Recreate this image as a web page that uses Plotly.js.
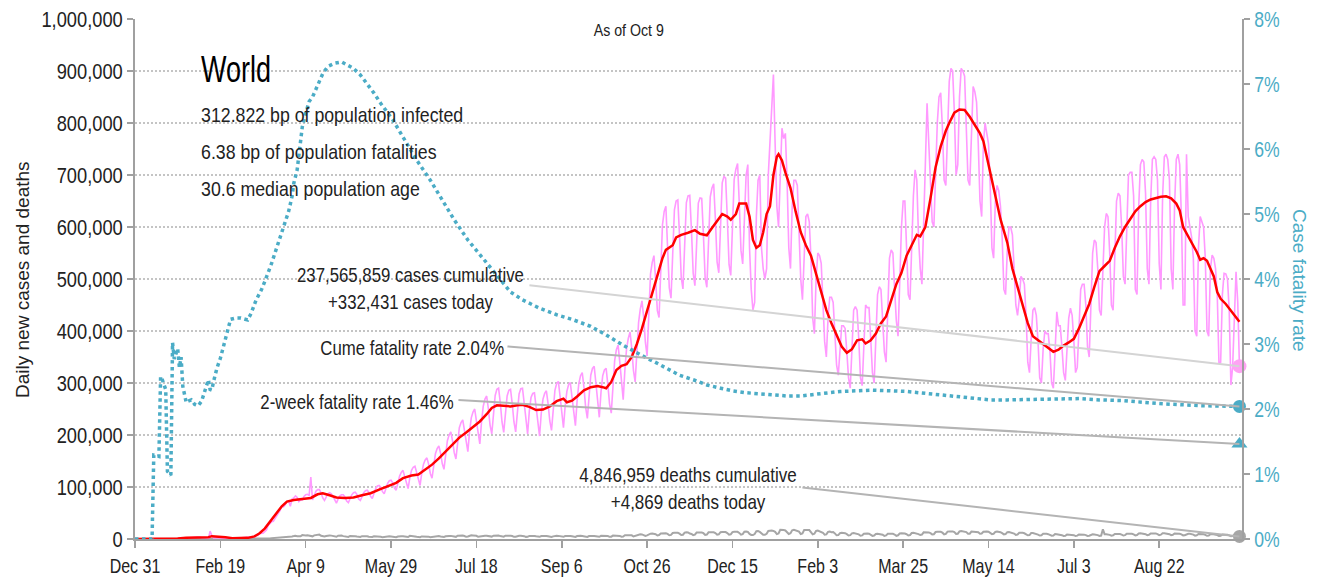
<!DOCTYPE html>
<html>
<head>
<meta charset="utf-8">
<script src="https://cdn.plot.ly/plotly-3.0.1.min.js"></script>
<style>html,body{margin:0;padding:0;background:#fff;}#chart{width:1317px;height:579px;}</style>
</head>
<body>
<div id="chart"></div>
<script>
// ---------- DATA ----------
const startDate = [2019, 11, 31]; // day 0 = Dec 31, 2019

const tickDays = [0, 50, 100, 150, 200, 250, 300, 350, 400, 450, 500, 550, 600];
const tickLabels = ["Dec 31", "Feb 19", "Apr 9", "May 29", "Jul 18", "Sep 6", "Oct 26", "Dec 15", "Feb 3", "Mar 25", "May 14", "Jul 3", "Aug 22"];

// daily new cases, thousands (one value per day from Dec 31, 2019)
const dailyCasesK = [
0,0,0,0,0,0,0,0,0,0,0,0,0,0,0,0,0,0,0,0,0,0,
0.6,0.1,0.3,0.5,0.7,0.8,1.7,0.1,1.7,2.0,1.7,2.1,2.6,2.8,
3.7,3.2,3.5,2.7,3.0,2.6,2.0,0.5,
15.1,
6.5,2.1,2.6,2.1,1.9,1.8,0.5,1.0,1.0,0.7,0.7,1.0,
1.0,1.3,2.0,1.8,1.7,2.0,2.5,2.3,2.8,
3.7,4.0,3.8,4.0,4.5,7.4,7.1,10.9,11.4,11.0,
14,17,26,30,33,34,39,45,49,55,
63,62,66,72,73,63,77,
79,83,80,72,75,
75,82,85,86,84,119,75,
85,92,95,95,89,79,74,
82,87,89,87,82,74,69,
77,83,85,85,81,73,70,
78,85,89,90,86,77,74,
82,89,93,94,90,82,78,
89,97,102,103,99,91,87,
99,107,112,113,108,98,94,
107,121,128,132,120,106,97,
118,132,138,140,128,112,103,
127,144,152,156,144,126,117,
145,164,174,179,165,145,134,
167,189,200,206,189,166,154,
189,214,224,229,209,183,168,
207,233,244,250,227,199,183,
225,255,269,275,251,219,202,
246,276,288,290,262,225,205,
248,275,286,288,260,225,206,
249,279,289,290,261,224,202,
246,272,280,281,253,218,198,
242,269,280,285,260,227,209,
255,286,299,303,275,238,214,
256,284,297,301,273,238,218,
266,299,314,320,292,253,232,
282,315,328,332,300,258,234,
283,314,325,328,297,260,242,
301,343,364,373,340,294,268,
326,367,386,398,367,324,302,
364,416,442,458,426,378,352,
443,510,532,545,499,439,426,
519,604,630,640,560,483,463,
554,633,650,652,583,503,481,
575,647,660,661,592,511,487,
578,646,656,655,584,502,484,
583,658,675,683,615,533,512,
613,685,697,694,617,528,507,
610,691,711,722,645,555,529,
632,700,720,560,480,440,455,
620,690,700,560,520,500,520,
700,770,850,893,760,640,600,
720,790,770,780,690,560,520,
640,690,690,680,600,500,460,
560,620,625,610,540,425,395,
500,550,545,530,460,380,350,
425,465,465,455,400,335,315,
370,410,410,405,360,310,290,
360,440,447,440,385,310,295,
370,450,445,445,385,320,300,
390,470,485,480,420,360,340,
425,540,556,550,480,420,390,
495,600,650,650,560,470,460,
560,660,710,690,580,520,490,
590,720,838,760,700,610,600,
700,800,850,858,790,690,680,
790,880,905,900,820,700,720,
850,905,900,890,800,690,680,
790,870,860,840,760,650,620,
760,800,780,760,680,560,540,
650,680,670,640,580,480,470,
555,600,600,585,520,450,430,
460,505,500,490,430,340,320,
385,440,445,430,380,310,300,
365,400,395,395,360,300,290,
360,437,410,410,370,320,305,
375,425,444,430,380,320,330,
405,480,490,490,450,370,350,
460,550,575,570,520,440,430,
515,600,626,620,550,450,440,
555,650,665,660,600,505,490,
620,700,705,705,660,480,470,
640,720,730,725,665,520,490,
650,730,735,730,690,530,480,
660,735,740,730,690,520,480,
640,730,740,720,620,450,450,
740,620,600,580,540,400,390,
560,620,610,600,540,400,390,
520,546,540,520,470,338,340,
470,511,510,500,440,296,330,
440,514,456,332.431
];

// 7-day average of new cases, thousands: [day, value]
const avgCasesK = [
[0,0],[19,0],[21,0.3],[25,1.2],[30,2.5],[36,3.2],[40,3.0],[43,3.5],[45,5.5],[50,4.5],[53,3.5],[57,1.5],[62,1.5],[66,2.2],
[70,5],[73,11],[76,20],[79,33],[82,48],[86,63],[89,72],[93,75],[98,77],[103,79],[107,86],[110,88],[114,84],[118,80],
[123,79],[128,80],[133,84],[138,88],[143,95],[148,101],[153,108],[157,117],[162,122],[166,124],[170,133],[174,143],
[178,155],[182,168],[186,182],[190,195],[194,205],[198,216],[202,226],[206,240],[209,252],[212,257],[216,256],[220,255],
[224,257],[227,258],[231,254],[235,248],[239,249],[243,255],[247,265],[251,270],[253,263],[256,266],[259,274],[263,286],
[267,292],[271,294],[274,292],[276,290],[279,302],[282,325],[285,333],[288,336],[291,350],[294,375],[297,405],[300,440],
[303,475],[306,510],[309,540],[311,556],[313,560],[315,565],[317,580],[320,585],[324,589],[328,594],[331,587],[335,584],
[338,598],[341,612],[344,625],[347,620],[349,614],[352,625],[354,645],[358,645],[360,620],[362,575],[364,560],[366,565],
[368,590],[370,625],[372,640],[374,700],[376,735],[377,740],[379,728],[381,705],[384,675],[387,630],[390,590],[393,565],
[396,545],[399,510],[402,475],[405,440],[408,415],[411,392],[414,370],[417,358],[420,365],[423,382],[426,384],[428,376],
[431,382],[434,395],[437,415],[440,428],[443,460],[446,490],[449,512],[452,545],[455,565],[458,585],[460,582],[463,600],
[466,655],[469,715],[472,755],[475,785],[477,800],[480,820],[483,826],[486,825],[489,812],[492,795],[495,780],[497,765],
[500,720],[503,670],[507,615],[511,570],[514,520],[517,485],[520,448],[523,415],[526,390],[530,380],[534,370],[538,360],
[541,364],[544,372],[547,378],[550,385],[553,405],[556,430],[559,452],[562,485],[565,515],[568,525],[571,535],[574,560],
[577,582],[580,600],[583,615],[586,630],[589,640],[592,648],[595,653],[598,656],[601,658],[604,659],[607,655],[610,645],
[612,632],[614,600],[616,588],[618,575],[620,565],[622,552],[624,537],[626,540],[628,535],[630,520],[632,505],[634,475],
[636,462],[639,452],[642,440],[645,428],[647,418]
];

// daily deaths, thousands (one value per day from Dec 31, 2019)
const dailyDeathsK = [
0,0,0,0,0,0,0,0,0,0,0,0,0,0,0,0,0,0,0,0,0,
0,0.02,0.01,0.01,0.02,0.02,0.03,
0.05,0.01,0.04,0.04,0.05,0.06,0.06,
0.07,0.07,0.07,0.09,0.09,0.1,0.1,
0.11,0.1,0.25,0.14,0.14,0.14,0.1,
0.1,0.12,0.12,0.11,0.1,0.1,0.1,
0.1,0.1,0.05,0.07,0.07,0.08,0.1,
0.15,0.1,0.15,0.2,0.2,0.25,0.3,
0.3,0.45,0.35,0.45,0.6,0.8,0.9,
0.9,1.1,1.2,1.6,1.8,1.8,2.2,
2.3,2.7,2.9,3.4,3.7,3.7,4.3,
4.9,5.0,5.6,6.3,5.4,4.8,5.1,
7.5,6.8,6.9,7.2,6.2,5.3,5.1,
7.0,7.8,7.5,8.5,6.3,5.5,4.8,
5.8,7.0,6.7,6.5,5.7,4.5,4.3,
6.3,6.9,6.6,5.5,5.3,3.9,4.1,
5.9,6.2,5.6,5.4,4.8,3.6,3.9,
5.4,5.6,5.2,5.2,4.3,3.4,3.8,
5.3,5.4,5.3,5.0,4.4,3.2,3.7,
4.8,5.4,5.1,4.8,4.2,3.0,3.5,
4.8,5.5,5.4,5.2,4.5,3.3,3.8,
6.0,5.2,5.2,5.0,4.3,3.3,3.5,
5.0,5.2,5.0,5.3,4.5,3.3,3.6,
4.9,5.3,5.3,5.6,4.7,3.6,3.9,
5.2,6.0,5.9,6.0,5.3,3.9,4.2,
6.3,6.8,6.6,6.6,5.8,4.2,4.7,
6.6,7.1,6.9,6.6,6.2,4.3,4.9,
6.4,7.0,6.4,6.2,5.9,4.5,4.6,
6.3,6.7,6.8,6.5,5.6,4.3,4.5,
6.4,6.6,6.5,6.3,5.7,4.2,4.5,
6.1,6.4,6.3,6.3,5.4,4.1,4.2,
5.9,6.2,6.2,5.9,5.2,4.0,4.2,
5.8,6.1,6.1,5.8,5.2,3.9,3.8,
5.1,6.0,6.2,6.0,5.3,4.0,4.2,
5.8,6.2,6.0,5.6,5.1,3.8,4.0,
5.7,6.3,6.1,5.7,5.2,3.9,4.1,
5.6,6.2,6.0,5.8,5.3,4.0,4.2,
6.0,6.2,6.2,6.2,5.6,4.2,4.5,
6.5,6.6,6.6,6.6,6.0,4.4,4.8,
7.2,7.5,7.7,7.8,7.0,4.8,5.8,
7.8,8.7,8.9,8.8,8.0,6.0,6.9,
9.4,10.2,10.4,10.3,9.2,6.8,7.7,
10.5,11.0,11.3,11.0,9.8,7.3,7.9,
11.5,12.0,12.3,11.8,10.3,7.7,8.2,
12.3,12.8,12.7,10.4,9.8,7.5,8.4,
12.5,12.9,12.7,12.4,11.2,7.9,8.6,
12.8,13.0,13.2,12.9,11.3,8.2,9.0,
13.1,13.5,13.5,13.3,11.5,8.4,9.0,
13.3,14.0,14.1,13.8,11.7,8.3,9.3,
14.0,14.4,13.7,9.8,7.8,7.7,9.6,
14.8,15.2,13.7,10.1,8.3,8.0,10.0,
15.6,16.5,16.2,15.5,13.8,9.4,10.8,
17.5,17.9,17.2,16.4,13.6,9.7,11.0,
16.8,17.6,16.4,16.0,14.1,9.6,10.8,
17.3,17.9,17.3,17.2,13.7,9.0,10.2,
15.5,16.4,15.0,14.2,12.1,8.3,8.9,
13.8,14.3,13.2,13.3,10.7,7.1,7.4,
11.2,12.1,11.7,11.1,9.4,6.7,7.4,
10.8,11.5,10.9,10.4,8.9,6.3,7.0,
10.0,10.8,10.6,10.2,8.5,6.0,6.8,
9.6,10.2,9.9,9.8,8.3,5.8,6.9,
9.9,10.2,10.0,9.9,8.6,6.2,7.2,
10.5,11.0,11.2,10.5,9.2,6.8,7.5,
11.5,11.9,11.2,10.6,9.4,7.6,8.5,
12.8,13.2,13.0,12.6,11.2,8.8,9.2,
13.4,13.8,13.8,13.8,12.2,9.0,9.8,
14.2,14.6,14.8,14.6,13.2,9.9,10.2,
14.6,15.3,15.0,14.5,13.3,10.1,10.2,
14.3,14.3,14.2,14.1,12.9,10.2,10.5,
13.8,14.4,14.3,14.0,12.2,9.4,10.1,
13.6,14.4,13.9,13.1,11.2,8.8,9.5,
13.2,13.5,12.8,12.1,10.5,8.0,8.6,
11.9,12.2,11.8,11.0,9.2,7.1,7.6,
11.4,11.4,10.9,10.3,8.5,6.6,7.2,
10.1,10.4,9.9,9.3,8.0,6.3,6.8,
9.5,9.2,9.0,8.6,7.4,5.9,6.2,
8.8,8.8,8.6,8.4,7.4,5.7,6.4,
8.7,8.9,8.6,8.4,7.5,5.9,6.4,
8.5,8.9,8.8,8.5,7.5,6.0,6.6,
18.5,9.3,9.2,8.9,8.0,6.5,7.0,
9.7,10.0,9.9,9.6,8.5,6.7,7.5,
10.0,10.3,10.3,10.0,8.8,7.0,7.7,
10.5,10.8,10.7,10.5,9.3,7.3,8.0,
10.8,11.2,11.1,10.8,9.5,7.5,8.3,
10.9,11.1,10.8,10.5,9.3,7.4,8.0,
10.5,10.7,10.5,10.2,8.9,7.0,7.2,
9.3,10.1,9.9,9.6,8.4,6.5,7.1,
9.6,9.7,9.5,9.0,8.0,6.2,6.7,
9.3,9.5,9.2,8.8,7.6,5.9,6.3,
8.6,8.8,8.4,8.1,7.0,5.4,5.8,
7.9,8.2,7.6,4.869
];

// cumulative case fatality rate, percent: [day, value]
const cfrPct = [
[0,0],[10,0],[11,1.29],[14,1.27],[15,2.5],[16,2.45],[18,2.3],[19,1.04],[21,0.98],[22,3.02],[23,2.77],[24,2.86],[25,2.93],
[26,2.64],[27,2.8],[28,2.35],[29,2.2],[30,2.1],[31,2.12],[33,2.14],[35,2.07],[37,2.05],[39,2.12],[41,2.3],[43,2.45],[44,2.3],
[45,2.29],[46,2.42],[48,2.63],[50,2.78],[52,2.98],[54,3.16],[56,3.38],[59,3.4],[62,3.4],[66,3.37],[68,3.47],[71,3.68],
[74,3.83],[76,3.96],[78,4.09],[80,4.24],[82,4.4],[84,4.55],[86,4.7],[88,4.86],[90,5.04],[92,5.27],[93,5.47],[95,5.68],
[96,5.88],[97,6.14],[98,6.34],[100,6.55],[102,6.73],[104,6.8],[106,6.93],[108,7.06],[110,7.16],[113,7.27],[117,7.32],
[121,7.34],[125,7.29],[128,7.24],[132,7.14],[136,7.01],[140,6.86],[144,6.7],[148,6.55],[151,6.45],[158,6.14],[165,5.83],
[173,5.52],[180,5.22],[187,4.91],[195,4.6],[202,4.37],[208,4.19],[214,3.98],[220,3.8],[227,3.68],[237,3.55],[247,3.45],
[257,3.37],[267,3.27],[276,3.14],[286,2.98],[294,2.86],[300,2.78],[304,2.73],[311,2.63],[319,2.52],[327,2.45],[335,2.37],
[343,2.32],[350,2.28],[358,2.25],[366,2.23],[374,2.21],[382,2.2],[390,2.2],[397,2.22],[405,2.24],[413,2.27],[423,2.28],
[432,2.29],[452,2.27],[471,2.22],[491,2.16],[501,2.14],[511,2.14],[530,2.15],[553,2.16],[565,2.14],[578,2.13],[602,2.08],
[626,2.05],[647,2.04]
];

const twoWeekCfrPct = 1.46;
const cumulativeCases = 237565859;
const cumulativeDeaths = 4846959;
const infoLines = ["312.822 bp of population infected", "6.38 bp of population fatalities", "30.6 median population age"];

// ---------- HELPERS ----------
function dayToDate(d) {
  const t = new Date(Date.UTC(startDate[0], startDate[1], startDate[2]) + d * 86400000);
  return t.toISOString().slice(0, 10);
}
const fmt = n => n.toLocaleString('en-US');

const SANS = "'Liberation Sans', Arial, sans-serif";
const TEAL = '#4bacc6';
const PINK = '#ff99ff';
const GRAY = '#a6a6a6';
const AXIS = '#a0a0a0';

const lastIdx = dailyCasesK.length - 1;
const lastDate = dayToDate(lastIdx);
const lastCases = dailyCasesK[lastIdx] * 1000;
const lastDeaths = dailyDeathsK[dailyDeathsK.length - 1] * 1000;
const lastCfr = cfrPct[cfrPct.length - 1][1];

const traces = [
  { x: dailyDeathsK.map((v, i) => dayToDate(i)), y: dailyDeathsK.map(v => v * 1000),
    type: 'scatter', mode: 'lines', line: { color: GRAY, width: 2 }, hoverinfo: 'skip' },
  { x: dailyCasesK.map((v, i) => dayToDate(i)), y: dailyCasesK.map(v => v * 1000),
    type: 'scatter', mode: 'lines', line: { color: PINK, width: 1.6 }, hoverinfo: 'skip' },
  { x: avgCasesK.map(p => dayToDate(p[0])), y: avgCasesK.map(p => p[1] * 1000),
    type: 'scatter', mode: 'lines', line: { color: '#ff0000', width: 2.5 }, hoverinfo: 'skip' },
  { x: cfrPct.map(p => dayToDate(p[0])), y: cfrPct.map(p => p[1]), yaxis: 'y2',
    type: 'scatter', mode: 'lines', line: { color: TEAL, width: 3.5, dash: '3.5px,3.5px' }, hoverinfo: 'skip' },
  { x: [lastDate], y: [lastCases], type: 'scatter', mode: 'markers', cliponaxis: false,
    marker: { color: '#ffa3f4', size: 14 } },
  { x: [lastDate], y: [lastDeaths], type: 'scatter', mode: 'markers', cliponaxis: false,
    marker: { color: GRAY, size: 13 } },
  { x: [lastDate], y: [lastCfr], yaxis: 'y2', type: 'scatter', mode: 'markers', cliponaxis: false,
    marker: { color: TEAL, size: 13 } },
  { x: [lastDate], y: [twoWeekCfrPct], yaxis: 'y2', type: 'scatter', mode: 'markers', cliponaxis: false,
    marker: { color: TEAL, size: 14, symbol: 'triangle-up' } }
];

const X0 = 135, W = 1107, YB = 539, H = 520;
const px = p => (p - X0) / W;
const py = p => (YB - p) / H;

const annFont = { family: SANS, size: 20.5, color: '#222' };
// [annotation, horizontal squeeze, squeeze anchor]
const annSpec = [
  [{ xref: 'paper', yref: 'paper', x: px(629), y: py(30), text: 'As of Oct 9', showarrow: false,
    xanchor: 'center', yanchor: 'middle', font: { family: SANS, size: 16.5, color: '#222' } }, 0.86, 'c'],
  [{ xref: 'paper', yref: 'paper', x: px(199), y: py(69), text: 'World', showarrow: false,
    xanchor: 'left', yanchor: 'middle', font: { family: SANS, size: 36, color: '#000' } }, 0.75, 'l'],
  [{ xref: 'paper', yref: 'paper', x: px(199), y: py(114), text: infoLines[0], showarrow: false,
    xanchor: 'left', yanchor: 'middle', font: annFont }, 0.865, 'l'],
  [{ xref: 'paper', yref: 'paper', x: px(199), y: py(151), text: infoLines[1], showarrow: false,
    xanchor: 'left', yanchor: 'middle', font: annFont }, 0.865, 'l'],
  [{ xref: 'paper', yref: 'paper', x: px(199), y: py(189), text: infoLines[2], showarrow: false,
    xanchor: 'left', yanchor: 'middle', font: annFont }, 0.865, 'l'],
  [{ xref: 'paper', yref: 'paper', x: px(22), y: py(280), text: 'Daily new cases and deaths', showarrow: false,
    textangle: -90, xanchor: 'center', yanchor: 'middle', font: { family: SANS, size: 19, color: '#222' } }, 1, 'c'],
  [{ xref: 'paper', yref: 'paper', x: px(1300), y: py(280), text: 'Case fatality rate', showarrow: false,
    textangle: 90, xanchor: 'center', yanchor: 'middle', font: { family: SANS, size: 19, color: TEAL } }, 1, 'c'],
  [{ xref: 'paper', yref: 'paper', x: px(410), y: py(288),
    text: fmt(cumulativeCases) + ' cases cumulative<br>+' + fmt(Math.round(lastCases)) + ' cases today',
    showarrow: false, xanchor: 'center', yanchor: 'middle', font: annFont, align: 'center' }, 0.82, 'c'],
  [{ xref: 'paper', yref: 'paper', x: px(412), y: py(347),
    text: 'Cume fatality rate ' + lastCfr.toFixed(2) + '%',
    showarrow: false, xanchor: 'center', yanchor: 'middle', font: annFont }, 0.82, 'c'],
  [{ xref: 'paper', yref: 'paper', x: px(357), y: py(401),
    text: '2-week fatality rate ' + twoWeekCfrPct.toFixed(2) + '%',
    showarrow: false, xanchor: 'center', yanchor: 'middle', font: annFont }, 0.82, 'c'],
  [{ xref: 'paper', yref: 'paper', x: px(688), y: py(488),
    text: fmt(cumulativeDeaths) + ' deaths cumulative<br>+' + fmt(Math.round(lastDeaths)) + ' deaths today',
    showarrow: false, xanchor: 'center', yanchor: 'middle', font: annFont, align: 'center' }, 0.83, 'c']
];

// connector lines from the labels to the latest values (pixel offsets from the data point)
const connectors = [
  { yref: 'y', yanchor: lastCases, dx: -710, dy: 81, color: '#d4d4d4' },
  { yref: 'y2', yanchor: lastCfr, dx: -732, dy: 60, color: '#b4b4b4' },
  { yref: 'y2', yanchor: twoWeekCfrPct, dx: -781, dy: 44, color: '#b4b4b4' },
  { yref: 'y', yanchor: lastDeaths, dx: -437, dy: 49, color: '#b4b4b4' }
];
const shapes = connectors.map(c => ({
  type: 'line', layer: 'above', xref: 'x', yref: c.yref,
  xsizemode: 'pixel', xanchor: lastDate, x0: c.dx, x1: 0,
  ysizemode: 'pixel', yanchor: c.yanchor, y0: c.dy, y1: 0,
  line: { color: c.color, width: 2 }
}));

const layout = {
  width: 1317, height: 579,
  margin: { l: 135, r: 75, t: 19, b: 40, pad: 0 },
  paper_bgcolor: '#fff', plot_bgcolor: '#fff',
  showlegend: false,
  xaxis: {
    type: 'date', range: [dayToDate(0), dayToDate(648) + ' 12:00'],
    tickmode: 'array', tickvals: tickDays.map(dayToDate), ticktext: tickLabels,
    showgrid: false, zeroline: false, showline: true, linecolor: AXIS, linewidth: 2,
    ticks: 'outside', ticklen: 7, tickwidth: 1.5, tickcolor: AXIS,
    tickfont: { family: SANS, size: 20.5, color: '#222' }
  },
  yaxis: {
    range: [0, 1000000], dtick: 100000, tick0: 0, tickformat: ',d',
    showgrid: true, gridcolor: '#c4c4c4', gridwidth: 1.5, griddash: '2px,2px',
    zeroline: false, showline: true, linecolor: AXIS, linewidth: 2,
    ticks: 'outside', ticklen: 6, tickwidth: 1.5, tickcolor: AXIS,
    tickfont: { family: SANS, size: 21.5, color: '#222' }
  },
  yaxis2: {
    overlaying: 'y', side: 'right', range: [0, 8], dtick: 1, tick0: 0, ticksuffix: '%',
    showgrid: false, zeroline: false, showline: true, linecolor: AXIS, linewidth: 2,
    ticks: 'outside', ticklen: 6, tickwidth: 1.5, tickcolor: AXIS,
    tickfont: { family: SANS, size: 21.5, color: TEAL }
  },
  annotations: annSpec.map(a => a[0]),
  shapes: shapes
};

// horizontally condense text (the original uses a condensed typeface)
function squeeze(el, s, mode) {
  if (s === 1 || el.getAttribute('data-sq')) return;
  const b = el.getBBox();
  let cx = b.x + b.width / 2;
  if (mode === 'l') cx = b.x;
  if (mode === 'r') cx = b.x + b.width;
  const prev = el.getAttribute('transform') || '';
  el.setAttribute('transform', (prev + ' translate(' + cx + ',0) scale(' + s + ',1) translate(' + (-cx) + ',0)').trim());
  el.setAttribute('data-sq', '1');
}

Plotly.newPlot('chart', traces, layout, { displayModeBar: false, staticPlot: true }).then(gd => {
  gd.querySelectorAll('g.xtick text').forEach(t => squeeze(t, 0.78, 'c'));
  gd.querySelectorAll('g.ytick text').forEach(t => squeeze(t, 0.85, 'r'));
  gd.querySelectorAll('g.y2tick text').forEach(t => squeeze(t, 0.82, 'l'));
  gd.querySelectorAll('g.annotation').forEach(g => {
    const i = +g.getAttribute('data-index');
    const spec = annSpec[i];
    const t = g.querySelector('text.annotation-text');
    if (spec && t) squeeze(t, spec[1], spec[2]);
  });
});
</script>
</body>
</html>
